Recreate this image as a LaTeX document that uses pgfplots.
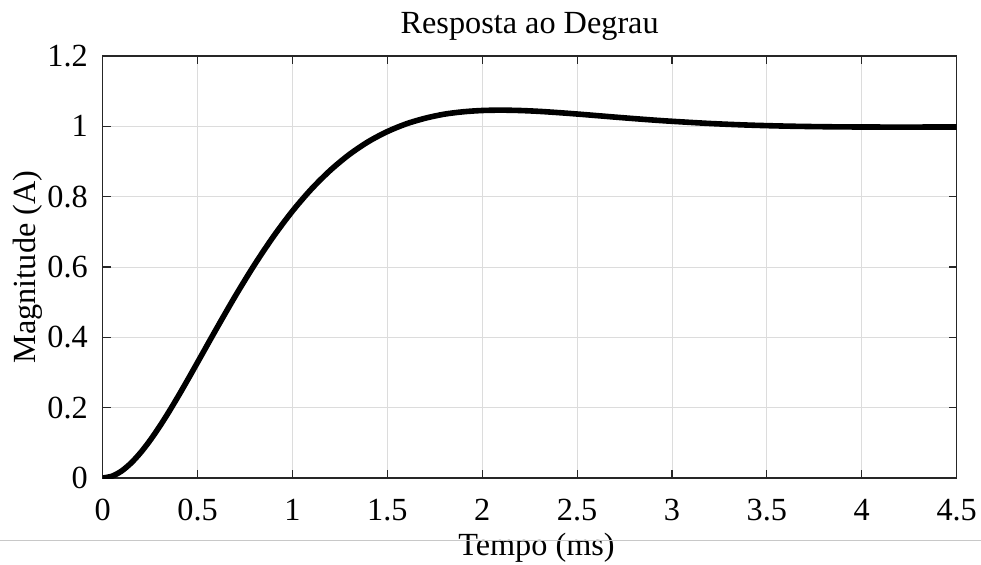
\documentclass[border=0pt]{standalone}
\usepackage{pgfplots}
\pgfplotsset{compat=1.18}
\usepackage{fontspec}
\setmainfont{Liberation Serif}

\definecolor{axisgray}{RGB}{38,38,38}
\definecolor{gridgray}{RGB}{220,220,220}
\definecolor{sepgray}{RGB}{200,200,200}

\begin{document}
\begin{tikzpicture}
\begin{axis}[
name=ax,
scale only axis,
width=640.5pt, height=316.5pt,
xmin=0, xmax=4.5,
ymin=0, ymax=1.2,
xtick={0,0.5,...,4.5},
ytick={0,0.2,...,1.2},
/pgf/number format/assume math mode=true,
font=\fontsize{24.2}{29}\selectfont,
axis line style={axisgray, line width=0.9pt},
tick style={axisgray, line width=0.9pt},
major tick length=6pt,
tick align=inside,
tick pos=both,
xmajorgrids, ymajorgrids,
grid style={gridgray, line width=0.6pt},
xticklabel style={anchor=base, yshift=-31.5pt},
yticklabel style={anchor=east, inner sep=0pt, xshift=-11pt},
title={Resposta ao Degrau},
title style={at={(axis description cs:0.5,1)}, anchor=base, yshift=10.5pt},
xlabel={Tempo (ms)},
xlabel style={at={(axis description cs:0.508,0)}, anchor=base, yshift=-57.75pt},
ylabel={Magnitude (A)},
ylabel style={at={(axis description cs:-0.0785,0.5)}, anchor=base},
]
\addplot [black, line width=4.2pt, line join=round, line cap=round, smooth] table {%
0 0
0.05 0.00526
0.1 0.01997
0.15 0.04271
0.2 0.07217
0.25 0.10709
0.3 0.14640
0.35 0.18904
0.4 0.23419
0.45 0.28101
0.5 0.32885
0.6 0.42483
0.7 0.51841
0.8 0.60632
0.9 0.68688
1.0 0.75890
1.1 0.82169
1.2 0.87526
1.3 0.92005
1.4 0.95652
1.5 0.98511
1.6 1.00711
1.7 1.02311
1.8 1.03458
1.9 1.04136
2.0 1.04502
2.1 1.04599
2.2 1.04498
2.3 1.04255
2.4 1.03904
2.5 1.03503
2.6 1.03065
2.7 1.02621
2.8 1.02194
2.9 1.01791
3.0 1.01430
3.2 1.00807
3.4 1.00357
3.6 1.00062
3.8 0.99891
4.0 0.99809
4.25 0.99789
4.5 0.99822
};
\end{axis}
\draw [sepgray, line width=0.75pt] (ax.south west) ++(-77pt,-46.5pt) -- ++(735.75pt,0);
\pgfresetboundingbox
\path [use as bounding box] (ax.south west) ++(-77pt,-64.5pt) rectangle ++(735.75pt,423pt);
\end{tikzpicture}
\end{document}
